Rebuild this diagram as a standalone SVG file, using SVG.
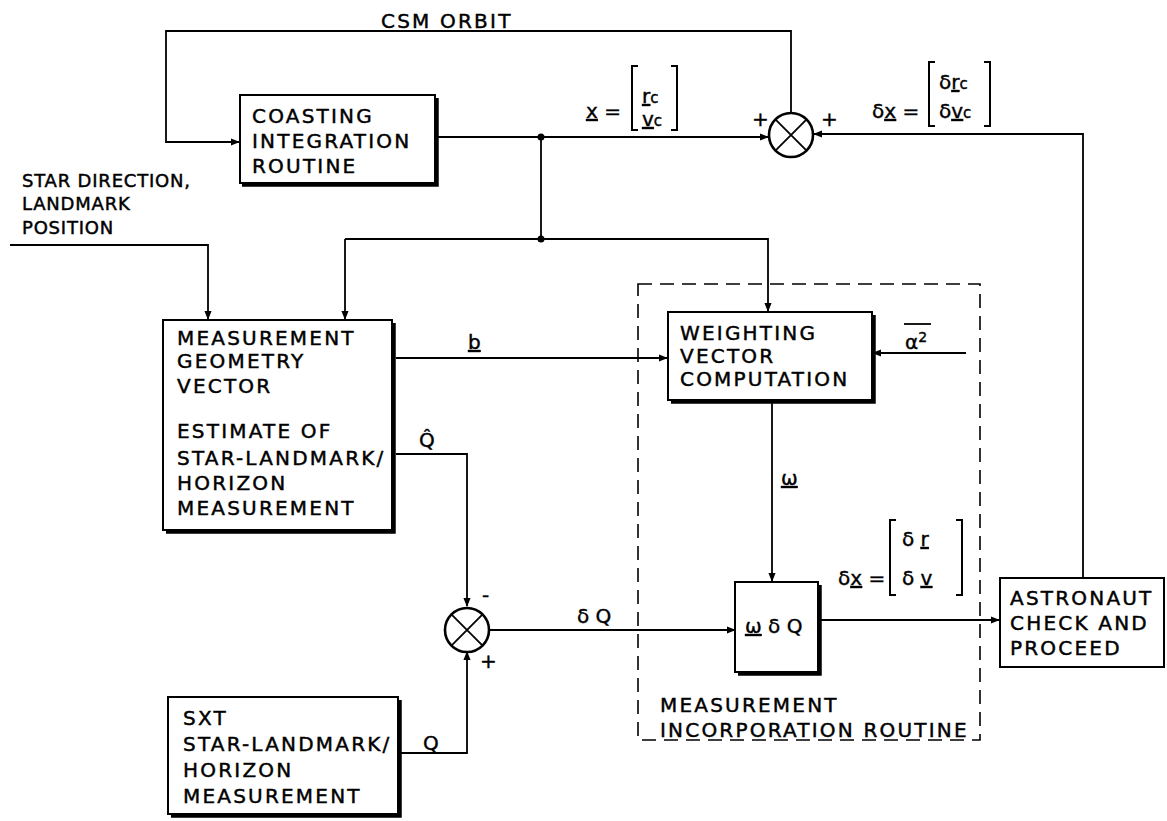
<svg xmlns="http://www.w3.org/2000/svg" width="1167" height="821" viewBox="0 0 1167 821">
<defs>
<style>
.t{font-family:"DejaVu Sans","Liberation Sans",sans-serif;font-size:20px;letter-spacing:2.2px;fill:#000;stroke:#000;stroke-width:0.45px}
.s{font-family:"DejaVu Sans","Liberation Sans",sans-serif;font-size:18px;letter-spacing:0.8px;fill:#000;stroke:#000;stroke-width:0.45px}
.m{font-family:"DejaVu Sans","Liberation Sans",sans-serif;font-size:20px;fill:#000;stroke:#000;stroke-width:0.4px}
.sub{font-size:15px}
.box{fill:#fff;stroke:#000;stroke-width:2}
.sh{fill:none;stroke:#000;stroke-width:3.5}
.ln{fill:none;stroke:#000;stroke-width:1.8}
.br{fill:none;stroke:#000;stroke-width:2}
.dash{fill:none;stroke:#000;stroke-width:1.6;stroke-dasharray:14 8}
.sum{fill:#fff;stroke:#000;stroke-width:2.6}
</style>
<marker id="ar" viewBox="0 0 10 10" refX="9" refY="5" markerWidth="9" markerHeight="9" markerUnits="userSpaceOnUse" orient="auto">
<path d="M0,1 L10,5 L0,9 z" fill="#000"/>
</marker>
</defs>
<rect width="1167" height="821" fill="#fff"/>

<g id="connectors">
<path class="ln" d="M791,113 V31 H166 V142 H239" marker-end="url(#ar)"/>
<path class="ln" d="M437,137 H768" marker-end="url(#ar)"/>
<path class="ln" d="M541,137 V239"/>
<path class="ln" d="M345,239 H768 V311" marker-end="url(#ar)"/>
<path class="ln" d="M345,239 V319" marker-end="url(#ar)"/>
<path class="ln" d="M10,245 H208 V319" marker-end="url(#ar)"/>
<path class="ln" d="M396,358 H667" marker-end="url(#ar)"/>
<path class="ln" d="M966,353 H873" marker-end="url(#ar)"/>
<path class="ln" d="M772,402 V581" marker-end="url(#ar)"/>
<path class="ln" d="M396,454 H467 V606" marker-end="url(#ar)"/>
<path class="ln" d="M400,753 H467 V652" marker-end="url(#ar)"/>
<path class="ln" d="M489,630 H735" marker-end="url(#ar)"/>
<path class="ln" d="M820,620 H999" marker-end="url(#ar)"/>
<path class="ln" d="M1083,578 V134 H814" marker-end="url(#ar)"/>
<circle cx="541" cy="137" r="3.5" fill="#000"/>
<circle cx="541" cy="239" r="3.5" fill="#000"/>
</g>

<g id="csm-orbit-label">
<text class="t" x="381" y="28">CSM ORBIT</text>
</g>

<g id="coasting">
<path class="sh" d="M437,98 V185 H242"/>
<rect class="box" x="240" y="95" width="195" height="88"/>
<text class="t" x="252" y="123">COASTING</text>
<text class="t" x="252" y="148">INTEGRATION</text>
<text class="t" x="252" y="173">ROUTINE</text>
</g>

<g id="x-label">
<text class="m" x="586" y="118"><tspan text-decoration="underline">x</tspan> =</text>
<path class="br" d="M638,66 H632 V130 H638 M671,66 H677 V130 H671"/>
<text class="m" x="642" y="103"><tspan text-decoration="underline">r</tspan><tspan class="sub">c</tspan></text>
<text class="m" x="642" y="126"><tspan text-decoration="underline">v</tspan><tspan class="sub">c</tspan></text>
</g>

<g id="summer-top">
<circle class="sum" cx="791" cy="135" r="22"/>
<path class="ln" stroke-width="2" d="M775.4,119.4 L806.6,150.6 M806.6,119.4 L775.4,150.6"/>
<text class="m" x="752" y="126" font-size="16">+</text>
<text class="m" x="821" y="126" font-size="16">+</text>
</g>

<g id="dx-top-label">
<text class="m" x="872" y="118">δ<tspan text-decoration="underline">x</tspan> =</text>
<path class="br" d="M935,62 H929 V126 H935 M984,62 H990 V126 H984"/>
<text class="m" x="939" y="89">δ<tspan text-decoration="underline">r</tspan><tspan class="sub">c</tspan></text>
<text class="m" x="939" y="118">δ<tspan text-decoration="underline">v</tspan><tspan class="sub">c</tspan></text>
</g>

<g id="star-direction">
<text class="s" x="22" y="187">STAR DIRECTION,</text>
<text class="s" x="22" y="210">LANDMARK</text>
<text class="s" x="22" y="234">POSITION</text>
</g>

<g id="measurement-geometry">
<path class="sh" d="M394,323 V532 H166"/>
<rect class="box" x="163" y="320" width="229" height="210"/>
<text class="t" x="177" y="345">MEASUREMENT</text>
<text class="t" x="177" y="368">GEOMETRY</text>
<text class="t" x="177" y="393">VECTOR</text>
<text class="t" x="177" y="438">ESTIMATE OF</text>
<text class="t" x="177" y="465">STAR-LANDMARK/</text>
<text class="t" x="177" y="490">HORIZON</text>
<text class="t" x="177" y="515">MEASUREMENT</text>
</g>

<g id="b-label">
<text class="m" x="468" y="349" text-decoration="underline">b</text>
</g>

<g id="qhat-label">
<text class="m" x="419" y="447">Q̂</text>
</g>

<g id="incorporation-routine">
<rect class="dash" x="638" y="284" width="342" height="456"/>
<text class="t" x="660" y="712">MEASUREMENT</text>
<text class="t" x="660" y="737">INCORPORATION ROUTINE</text>
</g>

<g id="weighting">
<path class="sh" d="M874,315 V402 H671"/>
<rect class="box" x="668" y="312" width="204" height="88"/>
<text class="t" x="680" y="340">WEIGHTING</text>
<text class="t" x="680" y="363">VECTOR</text>
<text class="t" x="680" y="386">COMPUTATION</text>
</g>

<g id="alpha-label">
<text class="m" x="905" y="349">α<tspan font-size="14" dy="-7">2</tspan></text>
<path class="ln" d="M904,324 H931"/>
</g>

<g id="omega-label">
<text class="m" x="781" y="485" text-decoration="underline">ω</text>
</g>

<g id="summer-bottom">
<circle class="sum" cx="467" cy="630" r="22"/>
<path class="ln" stroke-width="2" d="M451.4,614.4 L482.6,645.6 M482.6,614.4 L451.4,645.6"/>
<text class="m" x="482" y="602" font-size="16">-</text>
<text class="m" x="480" y="668" font-size="16">+</text>
</g>

<g id="dq-label">
<text class="m" x="577" y="623">δ Q</text>
</g>

<g id="omega-dq">
<path class="sh" d="M820,585 V674 H738"/>
<rect class="box" x="735" y="582" width="83" height="90"/>
<text class="m" x="745" y="633"><tspan text-decoration="underline">ω</tspan> δ Q</text>
</g>

<g id="dx-mid-label">
<text class="m" x="838" y="585">δ<tspan text-decoration="underline">x</tspan> =</text>
<path class="br" d="M896,520 H890 V595 H896 M956,520 H962 V595 H956"/>
<text class="m" x="902" y="546">δ <tspan text-decoration="underline">r</tspan></text>
<text class="m" x="902" y="585">δ <tspan text-decoration="underline">v</tspan></text>
</g>

<g id="astronaut">
<rect class="box" x="1000" y="578" width="164" height="89"/>
<text class="t" x="1010" y="605">ASTRONAUT</text>
<text class="t" x="1010" y="630">CHECK AND</text>
<text class="t" x="1010" y="655">PROCEED</text>
</g>

<g id="sxt">
<path class="sh" d="M400,700 V816 H171"/>
<rect class="box" x="168" y="697" width="230" height="117"/>
<text class="t" x="183" y="725">SXT</text>
<text class="t" x="183" y="751">STAR-LANDMARK/</text>
<text class="t" x="183" y="777">HORIZON</text>
<text class="t" x="183" y="803">MEASUREMENT</text>
</g>

<g id="q-label">
<text class="m" x="423" y="750">Q</text>
</g>
</svg>
